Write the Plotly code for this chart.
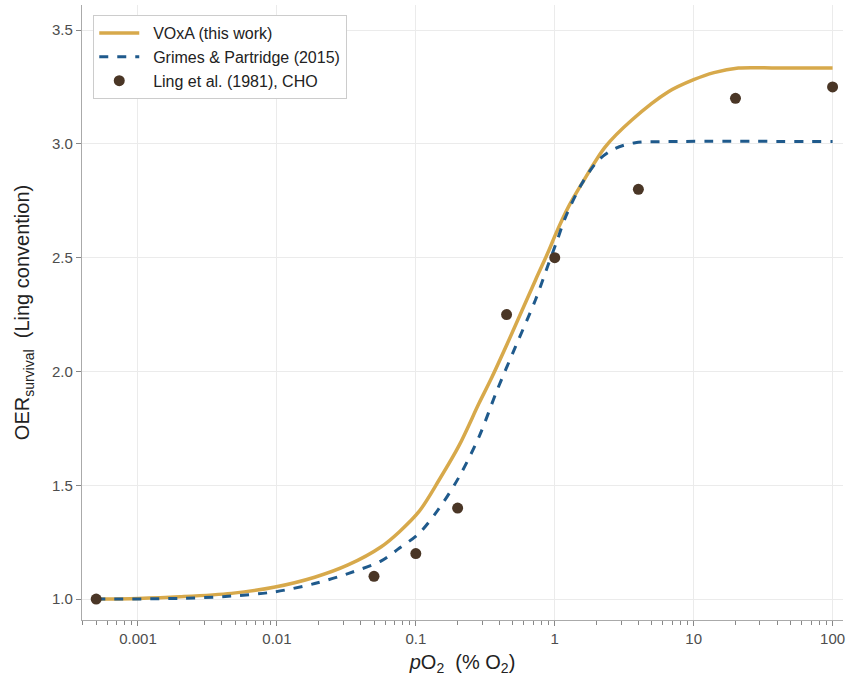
import plotly.graph_objects as go

# VOxA (this work) curve
voxa_p = [0.0005, 0.001, 0.002, 0.0047, 0.0097, 0.0187, 0.0325, 0.0564, 0.0759, 0.1056,
          0.147, 0.205, 0.285, 0.345, 0.468, 0.726, 0.905, 1.01, 1.26, 1.57, 2.31, 3.59,
          6.58, 10, 14, 21, 40, 100]
voxa_oer = [1.0, 1.003, 1.010, 1.025, 1.053, 1.096, 1.15, 1.23, 1.295, 1.385,
            1.523, 1.675, 1.86, 1.962, 2.138, 2.401, 2.53, 2.60, 2.725, 2.826, 2.987, 3.105,
            3.229, 3.282, 3.313, 3.333, 3.333, 3.333]

# Grimes & Partridge (2015) curve
gp_p = [0.0005, 0.002, 0.0047, 0.0097, 0.0187, 0.0325, 0.0564, 0.0759, 0.1056, 0.147,
        0.205, 0.285, 0.385, 0.522, 0.726, 0.905, 1.04, 1.19, 1.57, 2.07, 2.73, 3.8, 6.58, 100]
gp_oer = [1.0, 1.003, 1.013, 1.032, 1.068, 1.112, 1.168, 1.223, 1.289, 1.398,
          1.537, 1.713, 1.918, 2.109, 2.314, 2.475, 2.575, 2.675, 2.826, 2.929, 2.98, 3.005, 3.01, 3.01]

# Ling et al. (1981), CHO data
ling_p = [0.0005, 0.05, 0.1, 0.2, 0.45, 1.0, 4.0, 20.0, 100.0]
ling_oer = [1.0, 1.1, 1.2, 1.4, 2.25, 2.5, 2.8, 3.2, 3.25]

x_tickvals = [0.001, 0.01, 0.1, 1, 10, 100]
x_ticktext = ["0.001", "0.01", "0.1", "1", "10", "100"]
y_tickvals = [1.0, 1.5, 2.0, 2.5, 3.0, 3.5]

minor_vals = [m * 10 ** e for e in range(-4, 3) for m in range(2, 10)]

GOLD = "#D7A94B"
BLUE = "#1F5A8C"
BROWN = "#4A3626"
FONT = "Liberation Sans"
PAD = "\u00a0\u00a0"

fig = go.Figure()
fig.add_trace(go.Scatter(x=voxa_p, y=voxa_oer, mode="lines", name=PAD + "VOxA (this work)",
                         line=dict(color=GOLD, width=3.5, shape="spline", smoothing=0.9)))
fig.add_trace(go.Scatter(x=gp_p, y=gp_oer, mode="lines", name=PAD + "Grimes & Partridge (2015)",
                         line=dict(color=BLUE, width=3, dash="dash", shape="spline", smoothing=0.9)))
fig.add_trace(go.Scatter(x=ling_p, y=ling_oer, mode="markers", name=PAD + "Ling et al. (1981), CHO",
                         marker=dict(color=BROWN, size=11)))

fig.update_layout(
    width=850, height=688,
    margin=dict(l=82, r=5, t=5, b=68),
    plot_bgcolor="white", paper_bgcolor="white",
    font=dict(family=FONT, size=15, color="#333333"),
    legend=dict(x=0.0144, y=0.984, xanchor="left", yanchor="top",
                bgcolor="white", bordercolor="#cccccc", borderwidth=1.3,
                font=dict(size=16, color="#222222"), itemwidth=40),
    showlegend=True,
)
fig.update_xaxes(
    type="log", range=[-3.403, 2.075],
    tickvals=x_tickvals, ticktext=x_ticktext,
    ticks="outside", ticklen=5, tickcolor="#888888", tickwidth=1,
    showline=True, linecolor="#aaaaaa", linewidth=1.3,
    showgrid=True, gridcolor="#ebebeb", gridwidth=1,
    zeroline=False,
    tickfont=dict(size=15, color="#4d4d4d"),
    minor=dict(tickvals=minor_vals, ticks="outside", ticklen=4, tickcolor="#888888", showgrid=False),
    title=dict(text="<i>p</i>O<sub>2</sub>  (% O<sub>2</sub>)", font=dict(size=20, color="#222222"), standoff=8),
)
fig.update_yaxes(
    range=[0.908, 3.61],
    tickvals=y_tickvals, tickformat=".1f",
    ticks="outside", ticklen=5, tickcolor="#888888", tickwidth=1,
    showline=True, linecolor="#aaaaaa", linewidth=1.3,
    showgrid=True, gridcolor="#ebebeb", gridwidth=1,
    zeroline=False,
    tickfont=dict(size=15, color="#4d4d4d"),
    title=dict(text="OER<sub>survival</sub>  (Ling convention)", font=dict(size=20, color="#222222"), standoff=16),
)

fig.write_html("out.html")
